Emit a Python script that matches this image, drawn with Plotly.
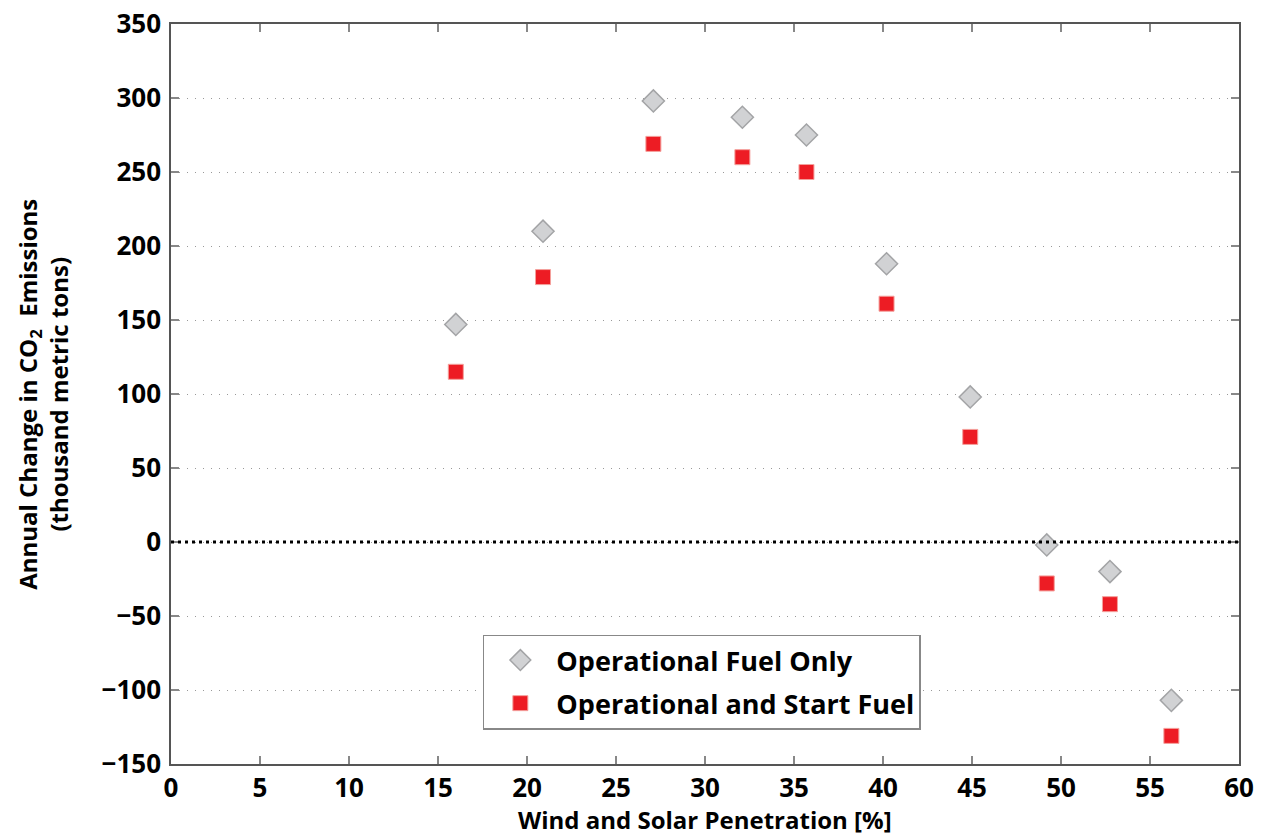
import plotly.graph_objects as go

penetration = [16.0, 20.9, 27.1, 32.1, 35.7, 40.2, 44.9, 49.2, 52.75, 56.2]
fuel_only = [147, 210, 298, 287, 275, 188, 98, -2, -20, -107]
fuel_start = [115, 179, 269, 260, 250, 161, 71, -28, -42, -131]

x_ticks = list(range(0, 61, 5))
y_ticks = list(range(-150, 351, 50))

FONT = "Open Sans"

fig = go.Figure()
fig.add_trace(go.Scatter(
    x=penetration, y=fuel_only, mode="markers", name="Operational Fuel Only",
    legendgroup="a",
    marker=dict(symbol="diamond", size=17, color="#d1d2d4",
                line=dict(color="#a3a4a6", width=1.5)),
))
fig.add_trace(go.Scatter(
    x=penetration, y=fuel_start, mode="markers", name="Operational and Start Fuel",
    legendgroup="b",
    marker=dict(symbol="square", size=15, color="#ed1c24",
                line=dict(color="#f4a09c", width=1)),
))

fig.add_shape(type="line", xref="paper", x0=0, x1=1, yref="y", y0=0, y1=0,
              line=dict(color="black", width=3, dash="3px,4px"), layer="above")

axis_common = dict(
    showline=True, linecolor="#555555", linewidth=1.5, mirror="ticks",
    ticks="inside", ticklen=8, tickcolor="#888888", tickwidth=1.5,
    tickfont=dict(family=FONT, size=26, color="black", weight="bold"),
    zeroline=False, automargin=False, ticklabeloverflow="allow",
)

title_font = dict(family=FONT, size=24, color="black", weight="bold")

fig.update_layout(
    width=1267, height=835,
    margin=dict(l=163, r=36, t=16, b=79),
    paper_bgcolor="white", plot_bgcolor="white",
    xaxis=dict(range=[0, 60], tickvals=x_ticks, showgrid=False,
               ticklabelstandoff=0, **axis_common),
    yaxis=dict(range=[-150, 350], tickvals=y_ticks, showgrid=True,
               gridcolor="#999999", griddash="1px,7px", gridwidth=1.2,
               ticklabelstandoff=3, **axis_common),
    legend=dict(x=0.292, y=0.175, xanchor="left", yanchor="top",
                bordercolor="#888888", borderwidth=1.5, bgcolor="white",
                traceorder="grouped", tracegroupgap=5, itemwidth=62,
                font=dict(family=FONT, size=27, color="black", weight="bold")),
    showlegend=True,
    annotations=[
        dict(text="Wind and Solar Penetration [%]", xref="paper", yref="paper",
             x=0.5, y=-0.075, xanchor="center", yanchor="middle",
             showarrow=False, font=title_font),
        dict(text="Annual Change in CO<sub>2</sub>&nbsp;&nbsp;Emissions<br>(thousand metric tons)",
             xref="paper", yref="paper", x=-0.12, y=0.5,
             xanchor="center", yanchor="middle", textangle=-90,
             showarrow=False, font=title_font),
    ],
)

fig.write_html("out.html")
